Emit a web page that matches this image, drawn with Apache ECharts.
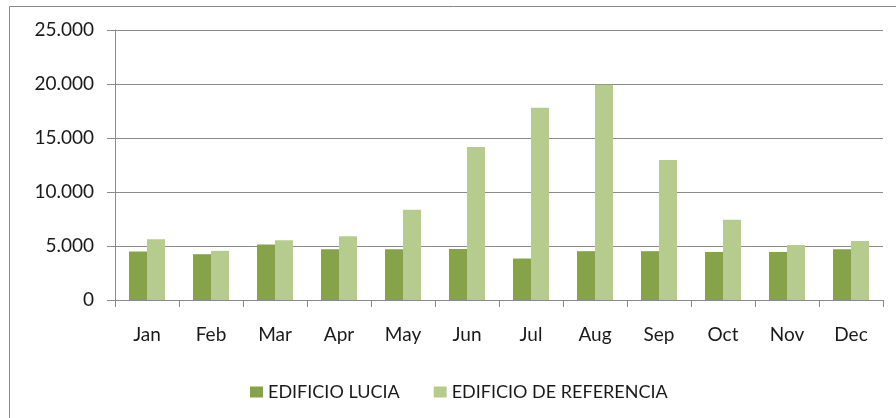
<!DOCTYPE html>
<html>
<head>
<meta charset="utf-8">
<script src="https://cdn.jsdelivr.net/npm/echarts@6/dist/echarts.min.js"></script>
<style>html,body{margin:0;padding:0;background:#fff}#c{width:896px;height:418px}</style>
</head>
<body>
<div id="c"></div>
<script>
const categories = ['Jan','Feb','Mar','Apr','May','Jun','Jul','Aug','Sep','Oct','Nov','Dec'];
const lucia = [4490, 4240, 5140, 4700, 4700, 4730, 3840, 4520, 4520, 4450, 4450, 4700];
const referencia = [5630, 4550, 5540, 5910, 8350, 14160, 17810, 19930, 12960, 7420, 5100, 5470];
const seriesNames = ['EDIFICIO LUCIA', 'EDIFICIO DE REFERENCIA'];
const yTicks = { min: 0, max: 25000, interval: 5000 };

const chart = echarts.init(document.getElementById('c'), null, {renderer: 'canvas'});
const fmt = v => String(v).replace(/\B(?=(\d{3})+(?!\d))/g, '.');
const font = 'Lato, "Open Sans", sans-serif';
chart.setOption({
  animation: false,
  backgroundColor: '#fff',
  graphic: [{
    type: 'rect', shape: {x: 9.5, y: 6.5, width: 900, height: 430},
    style: {fill: 'none', stroke: '#8a8a8a', lineWidth: 1}, silent: true
  }],
  grid: {left: 115, right: 13, top: 30, bottom: 118, containLabel: false},
  legend: {
    data: seriesNames, top: 378, left: 245, itemWidth: 13, itemHeight: 11, itemGap: 34,
    icon: 'rect',
    textStyle: {fontFamily: font, fontSize: 18, color: '#1a1a1a'}
  },
  xAxis: {
    type: 'category', data: categories,
    axisLine: {lineStyle: {color: '#8a8a8a', width: 1}},
    axisTick: {show: true, length: 7, lineStyle: {color: '#8a8a8a'}},
    axisLabel: {fontFamily: font, fontSize: 19, color: '#1a1a1a', margin: 25}
  },
  yAxis: {
    type: 'value', min: yTicks.min, max: yTicks.max, interval: yTicks.interval,
    axisLine: {show: true, lineStyle: {color: '#8a8a8a', width: 1}},
    axisTick: {show: true, length: 8, lineStyle: {color: '#8a8a8a'}},
    splitLine: {lineStyle: {color: '#8a8a8a', width: 1}},
    axisLabel: {fontFamily: font, fontSize: 19, color: '#1a1a1a', margin: 21, formatter: fmt}
  },
  series: [
    {name: seriesNames[0], type: 'bar', data: lucia, barWidth: 18, barGap: '0%', itemStyle: {color: '#87a34a'}},
    {name: seriesNames[1], type: 'bar', data: referencia, barWidth: 18, barGap: '0%', itemStyle: {color: '#b6cc8e'}}
  ]
});
</script>
</body>
</html>
